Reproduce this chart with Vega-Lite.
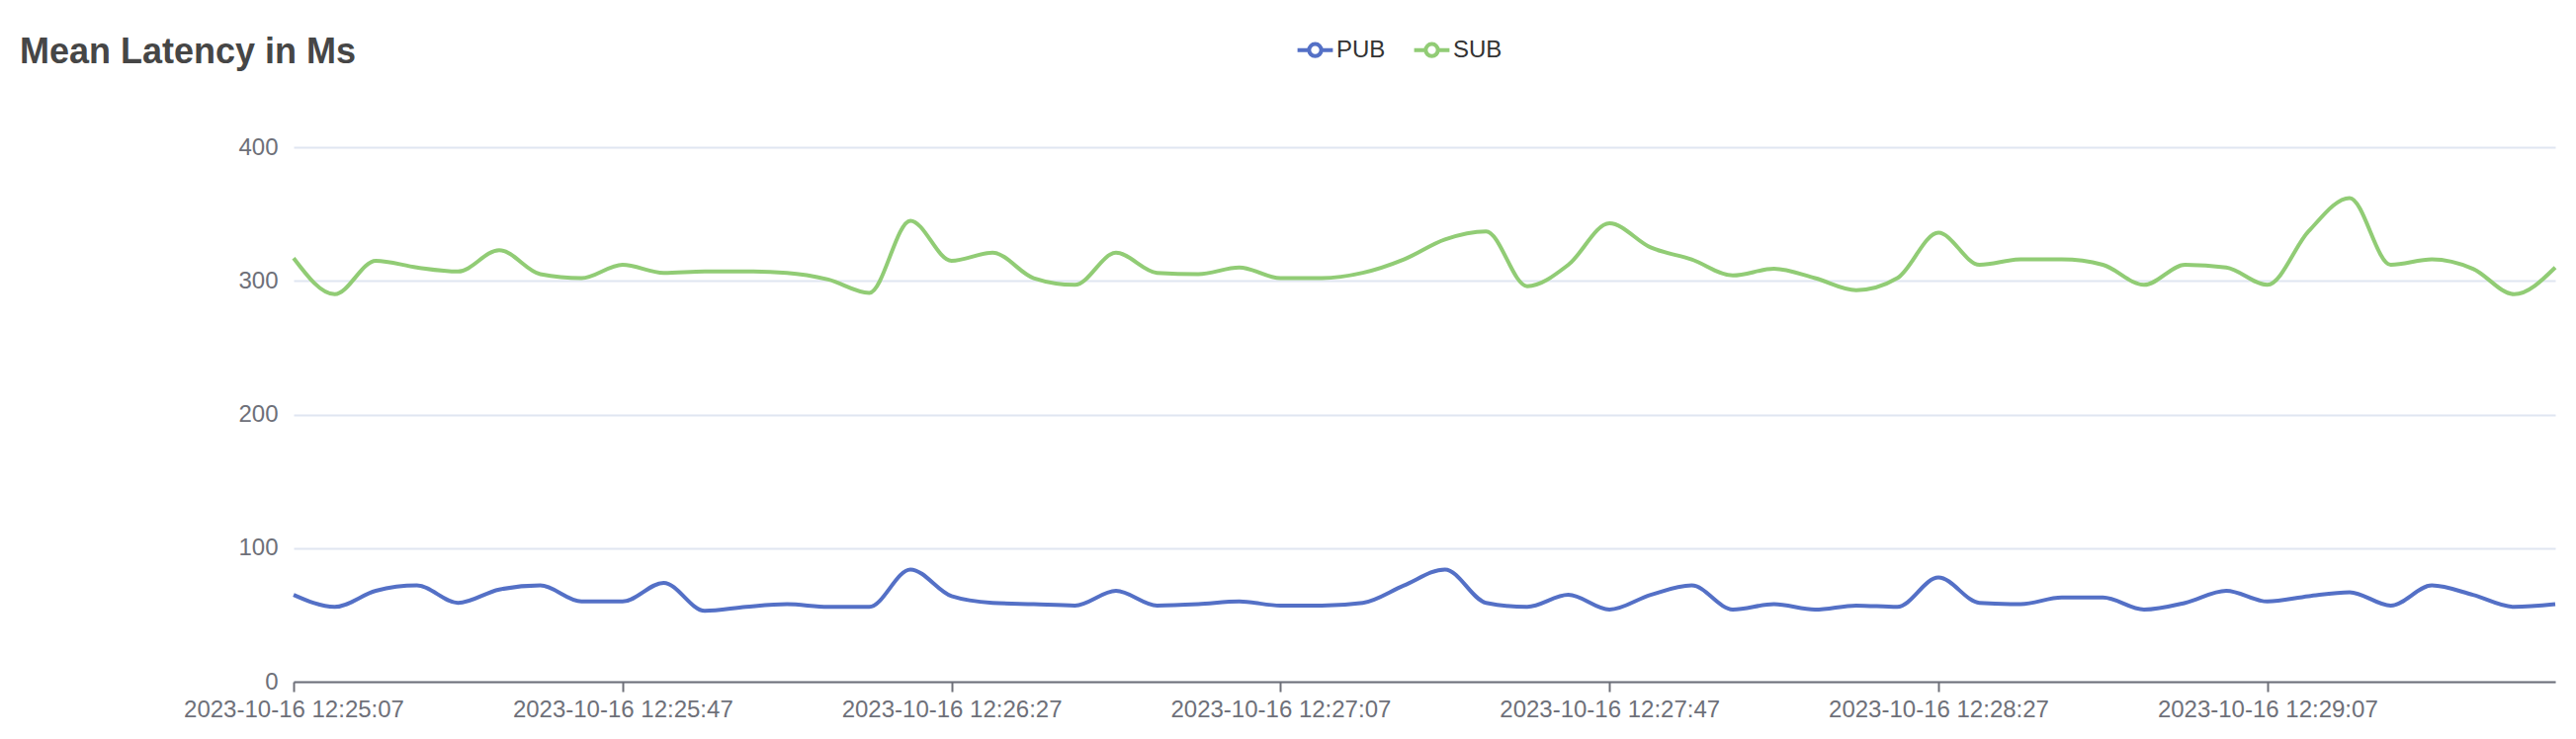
{
"$schema":"https://vega.github.io/schema/vega-lite/v6.json",
"autosize":{"type":"none"},
"width":2288,"height":541,
"padding":{"left":297,"top":149,"right":21,"bottom":58},
"background":"white",
"config":{"view":{"stroke":null}},
"title":{"text":"Mean Latency in Ms","anchor":"start","frame":"group","dx":-277,"offset":-35,"fontSize":36,"fontWeight":"bold","color":"#464646","font":"Liberation Sans"},
"data":{"values":[
{"t":"2023-10-16 12:25:07","PUB":65,"SUB":317},
{"t":"2023-10-16 12:25:12","PUB":56,"SUB":290},
{"t":"2023-10-16 12:25:17","PUB":68,"SUB":315},
{"t":"2023-10-16 12:25:22","PUB":72,"SUB":310},
{"t":"2023-10-16 12:25:27","PUB":59,"SUB":307},
{"t":"2023-10-16 12:25:32","PUB":69,"SUB":323},
{"t":"2023-10-16 12:25:37","PUB":72,"SUB":305},
{"t":"2023-10-16 12:25:42","PUB":60,"SUB":302},
{"t":"2023-10-16 12:25:47","PUB":60,"SUB":312},
{"t":"2023-10-16 12:25:52","PUB":74,"SUB":306},
{"t":"2023-10-16 12:25:57","PUB":53,"SUB":307},
{"t":"2023-10-16 12:26:02","PUB":56,"SUB":307},
{"t":"2023-10-16 12:26:07","PUB":58,"SUB":306},
{"t":"2023-10-16 12:26:12","PUB":56,"SUB":301},
{"t":"2023-10-16 12:26:17","PUB":56,"SUB":291},
{"t":"2023-10-16 12:26:22","PUB":84,"SUB":345},
{"t":"2023-10-16 12:26:27","PUB":64,"SUB":315},
{"t":"2023-10-16 12:26:32","PUB":59,"SUB":321},
{"t":"2023-10-16 12:26:37","PUB":58,"SUB":302},
{"t":"2023-10-16 12:26:42","PUB":57,"SUB":297},
{"t":"2023-10-16 12:26:47","PUB":68,"SUB":321},
{"t":"2023-10-16 12:26:52","PUB":57,"SUB":306},
{"t":"2023-10-16 12:26:57","PUB":58,"SUB":305},
{"t":"2023-10-16 12:27:02","PUB":60,"SUB":310},
{"t":"2023-10-16 12:27:07","PUB":57,"SUB":302},
{"t":"2023-10-16 12:27:12","PUB":57,"SUB":302},
{"t":"2023-10-16 12:27:17","PUB":59,"SUB":306},
{"t":"2023-10-16 12:27:22","PUB":72,"SUB":316},
{"t":"2023-10-16 12:27:27","PUB":84,"SUB":331},
{"t":"2023-10-16 12:27:32","PUB":59,"SUB":337},
{"t":"2023-10-16 12:27:37","PUB":56,"SUB":296},
{"t":"2023-10-16 12:27:42","PUB":65,"SUB":312},
{"t":"2023-10-16 12:27:47","PUB":54,"SUB":343},
{"t":"2023-10-16 12:27:52","PUB":65,"SUB":325},
{"t":"2023-10-16 12:27:57","PUB":72,"SUB":316},
{"t":"2023-10-16 12:28:02","PUB":54,"SUB":304},
{"t":"2023-10-16 12:28:07","PUB":58,"SUB":309},
{"t":"2023-10-16 12:28:12","PUB":54,"SUB":302},
{"t":"2023-10-16 12:28:17","PUB":57,"SUB":293},
{"t":"2023-10-16 12:28:22","PUB":56,"SUB":302},
{"t":"2023-10-16 12:28:27","PUB":78,"SUB":336},
{"t":"2023-10-16 12:28:32","PUB":59,"SUB":312},
{"t":"2023-10-16 12:28:37","PUB":58,"SUB":316},
{"t":"2023-10-16 12:28:42","PUB":63,"SUB":316},
{"t":"2023-10-16 12:28:47","PUB":63,"SUB":312},
{"t":"2023-10-16 12:28:52","PUB":54,"SUB":297},
{"t":"2023-10-16 12:28:57","PUB":59,"SUB":312},
{"t":"2023-10-16 12:29:02","PUB":68,"SUB":310},
{"t":"2023-10-16 12:29:07","PUB":60,"SUB":297},
{"t":"2023-10-16 12:29:12","PUB":64,"SUB":337},
{"t":"2023-10-16 12:29:17","PUB":67,"SUB":362},
{"t":"2023-10-16 12:29:22","PUB":57,"SUB":312},
{"t":"2023-10-16 12:29:27","PUB":72,"SUB":316},
{"t":"2023-10-16 12:29:32","PUB":65,"SUB":309},
{"t":"2023-10-16 12:29:37","PUB":56,"SUB":290},
{"t":"2023-10-16 12:29:42","PUB":58,"SUB":310}
]},
"transform":[{"fold":["PUB","SUB"],"as":["series","value"]}],
"mark":{"type":"line","interpolate":"monotone","strokeWidth":4},
"encoding":{
"x":{"field":"t","type":"temporal","title":null,
"scale":{"domain":[{"year":2023,"month":10,"date":16,"hours":12,"minutes":25,"seconds":7},{"year":2023,"month":10,"date":16,"hours":12,"minutes":29,"seconds":42}]},
"axis":{"values":[
{"year":2023,"month":10,"date":16,"hours":12,"minutes":25,"seconds":7},
{"year":2023,"month":10,"date":16,"hours":12,"minutes":25,"seconds":47},
{"year":2023,"month":10,"date":16,"hours":12,"minutes":26,"seconds":27},
{"year":2023,"month":10,"date":16,"hours":12,"minutes":27,"seconds":7},
{"year":2023,"month":10,"date":16,"hours":12,"minutes":27,"seconds":47},
{"year":2023,"month":10,"date":16,"hours":12,"minutes":28,"seconds":27},
{"year":2023,"month":10,"date":16,"hours":12,"minutes":29,"seconds":7}],
"format":"%Y-%m-%d %H:%M:%S","grid":false,"domainColor":"#6E7079","domainWidth":2,"tickColor":"#6E7079","tickWidth":2,"tickSize":10,"labelColor":"#6E7079","labelFontSize":24,"labelFont":"Liberation Sans","labelPadding":6,"labelOverlap":false,"labelFlush":false,"labelLimit":0}},
"y":{"field":"value","type":"quantitative","title":null,"scale":{"domain":[0,400]},
"axis":{"values":[0,100,200,300,400],"domain":false,"ticks":false,"gridColor":"#E0E6F1","gridWidth":2,"labelColor":"#6E7079","labelFontSize":24,"labelFont":"Liberation Sans","labelPadding":16}},
"color":{"field":"series","type":"nominal","scale":{"domain":["PUB","SUB"],"range":["#5470c6","#91cc75"]},
"legend":{"title":null,"orient":"none","legendX":1020,"legendY":-112,"direction":"horizontal","symbolType":"M-1.6,0H-0.55M0.55,0H1.6M0,-0.55A0.55,0.55,0,1,1,0,0.55A0.55,0.55,0,1,1,0,-0.55","symbolSize":500,"symbolStrokeWidth":4,"symbolFillColor":null,"labelFontSize":24,"labelFont":"Liberation Sans","labelColor":"#333333","columnPadding":20,"labelOffset":8}}
}
}
